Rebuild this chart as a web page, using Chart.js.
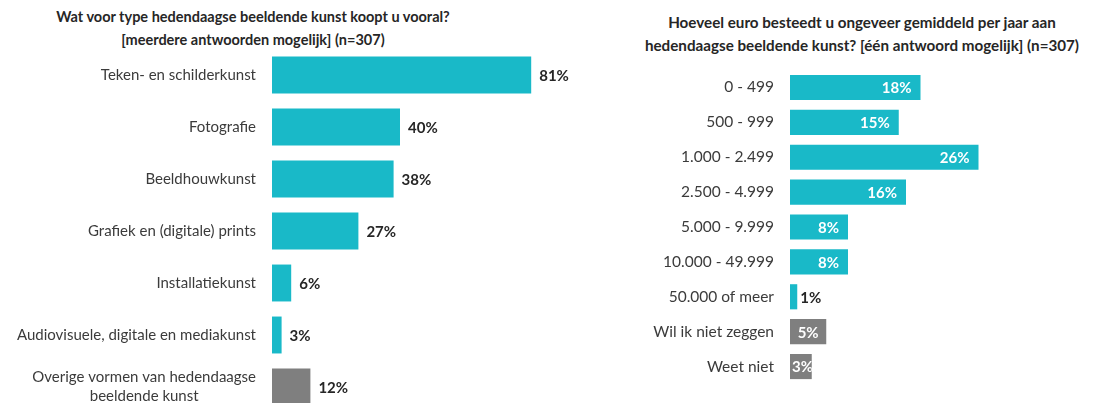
<!DOCTYPE html>
<html lang="nl">
<head>
  <meta charset="UTF-8" />
  <title>Hedendaagse beeldende kunst</title>
  <script src="https://cdn.jsdelivr.net/npm/chart.js"></script>
  <style>
    * {
      margin: 0;
      padding: 0;
      box-sizing: border-box;
    }

    html, body {
      width: 1109px;
      height: 403px;
      overflow: hidden;
      background: #fff;
      font-family: Lato, sans-serif;
      position: relative;
    }

    .title {
      position: absolute;
      text-align: center;
      font-weight: bold;
      line-height: 23px;
      color: #262626;
      white-space: nowrap;
    }

    #titleLeft { left: 0; width: 506px; top: 5px; font-size: 14.5px; }
    #titleRight { left: 600px; width: 524px; top: 11px; font-size: 15.2px; }

    .box { position: absolute; top: 0; }
    #boxLeft { left: 0; width: 580px; height: 413px; }
    #boxRight { left: 560px; width: 549px; height: 403px; }
  </style>
</head>
<body>

  <div class="title" id="titleLeft">Wat voor type hedendaagse beeldende kunst koopt u vooral?<br>[meerdere antwoorden mogelijk] (n=307)</div>
  <div class="title" id="titleRight">Hoeveel euro besteedt u ongeveer gemiddeld per jaar aan<br>hedendaagse beeldende kunst? [één antwoord mogelijk] (n=307)</div>

  <div class="box" id="boxLeft"><canvas id="artChart"></canvas></div>
  <div class="box" id="boxRight"><canvas id="spendChart"></canvas></div>

  <script>
    // data
    const artCategories = [
      'Teken- en schilderkunst',
      'Fotografie',
      'Beeldhouwkunst',
      'Grafiek en (digitale) prints',
      'Installatiekunst',
      'Audiovisuele, digitale en mediakunst',
      ['Overige vormen van hedendaagse', 'beeldende kunst']
    ];
    const artValues = [81, 40, 38, 27, 6, 3, 12];

    const spendCategories = [
      '0 - 499', '500 - 999', '1.000 - 2.499', '2.500 - 4.999', '5.000 - 9.999',
      '10.000 - 49.999', '50.000 of meer', 'Wil ik niet zeggen', 'Weet niet'
    ];
    const spendValues = [18, 15, 26, 16, 8, 8, 1, 5, 3];

    const TEAL = '#19B9C8';
    const GREY = '#7F7F7F';

    // grey bars for the "other / no answer" rows
    const greyFrom = (n, count) => ctx => ctx.dataIndex >= n - count ? GREY : TEAL;

    // category labels, right aligned next to the bars (multi-line centred)
    const catLabels = {
      id: 'catLabels',
      afterDraw(chart, args, opts) {
        const { ctx, chartArea, scales: { y } } = chart;
        ctx.save();
        ctx.font = opts.size + 'px Lato';
        ctx.fillStyle = '#3b3b3b';
        ctx.textBaseline = 'middle';
        ctx.textAlign = 'center';
        chart.data.labels.forEach((lab, i) => {
          const lines = [].concat(lab);
          const yc = y.getPixelForValue(i);
          const w = Math.max(...lines.map(l => ctx.measureText(l).width));
          const cx = chartArea.left - 16 - w / 2;
          lines.forEach((l, j) => {
            ctx.fillText(l, cx, yc + (j - (lines.length - 1) / 2) * 19);
          });
        });
        ctx.restore();
      }
    };

    // percentage labels
    const valueLabels = {
      id: 'valueLabels',
      afterDatasetsDraw(chart, args, opts) {
        const { ctx } = chart;
        const meta = chart.getDatasetMeta(0);
        const data = chart.data.datasets[0].data;
        ctx.save();
        ctx.font = 'bold 15px Lato';
        ctx.textBaseline = 'middle';
        meta.data.forEach((bar, i) => {
          const txt = data[i] + '%';
          const w = bar.x - bar.base;
          if (opts.inside && w > 10) {
            ctx.fillStyle = '#fff';
            const tw = ctx.measureText(txt).width;
            if (tw + 4 <= w) {
              ctx.textAlign = 'right';
              ctx.fillText(txt, bar.x - Math.min(9, (w - tw) / 2), bar.y + 1);
            } else {
              // too narrow: text runs past the bar end and is cut off
              ctx.save();
              ctx.beginPath();
              ctx.rect(bar.base, bar.y - bar.height / 2, w, bar.height);
              ctx.clip();
              ctx.textAlign = 'left';
              ctx.fillText(txt, bar.base + 2, bar.y + 1);
              ctx.restore();
            }
          } else {
            ctx.fillStyle = '#262626';
            ctx.textAlign = 'left';
            ctx.fillText(txt, bar.x + opts.gap, bar.y + 1);
          }
        });
        ctx.restore();
      }
    };

    function barChart(id, labels, values, greyCount, max, padding, barPct, labelSize, valueOpts) {
      return new Chart(document.getElementById(id), {
        type: 'bar',
        data: {
          labels: labels,
          datasets: [{
            data: values,
            backgroundColor: greyFrom(values.length, greyCount),
            barPercentage: barPct,
            categoryPercentage: 1
          }]
        },
        options: {
          indexAxis: 'y',
          responsive: true,
          maintainAspectRatio: false,
          animation: false,
          layout: { padding: padding },
          scales: {
            x: { display: false, min: 0, max: max },
            y: { display: false }
          },
          plugins: {
            legend: { display: false },
            tooltip: { enabled: false },
            catLabels: { size: labelSize },
            valueLabels: valueOpts
          }
        },
        plugins: [catLabels, valueLabels]
      });
    }

    barChart('artChart', artCategories, artValues, 1, 90,
      { left: 272, right: 20, top: 49, bottom: 0 }, 0.71, 15, { inside: false, gap: 8 });

    barChart('spendChart', spendCategories, spendValues, 2, 44,
      { left: 230, right: 0, top: 70, bottom: 19 }, 0.72, 15.5, { inside: true, gap: 3 });
  </script>

</body>
</html>
